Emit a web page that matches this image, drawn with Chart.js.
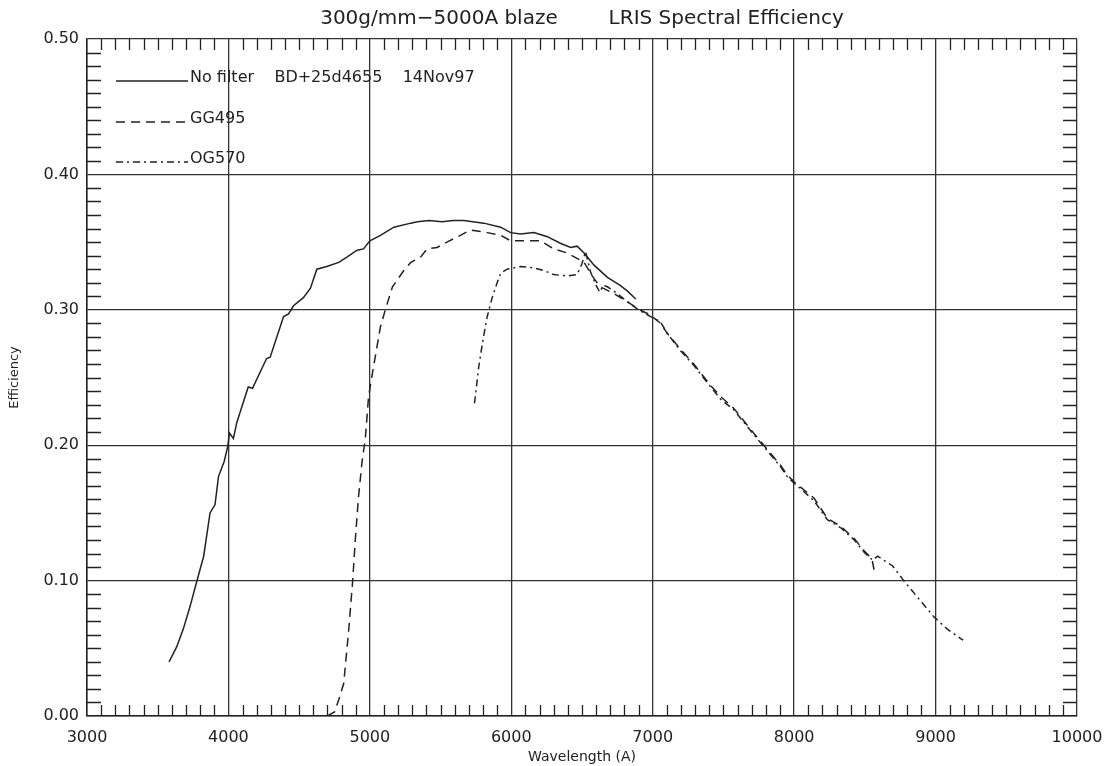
<!DOCTYPE html>
<html>
<head>
<meta charset="utf-8">
<title>LRIS Spectral Efficiency</title>
<script src="https://cdn.jsdelivr.net/npm/chart.js@4.4.1/dist/chart.umd.min.js"></script>
<style>
  html, body { margin: 0; padding: 0; background: #fff; }
  #wrap { width: 1108px; height: 766px; }
</style>
</head>
<body>
<div id="wrap"><canvas id="effChart" width="1108" height="766"></canvas></div>
<script>
// Values: wavelength (A) and efficiency for each filter
const noFilterWave = [3580, 3634, 3680, 3729, 3775, 3825, 3870, 3905, 3930, 3970, 3995, 4007, 4035, 4060, 4140, 4170, 4270, 4295, 4390, 4425, 4460, 4530, 4580, 4625, 4695, 4780, 4840, 4910, 4955, 5000, 5075, 5170, 5290, 5335, 5420, 5510, 5590, 5665, 5805, 5925, 5995, 6065, 6160, 6255, 6350, 6420, 6465, 6515, 6585, 6680, 6770, 6820, 6880];
const noFilterEff = [0.040, 0.051, 0.064, 0.081, 0.099, 0.118, 0.150, 0.156, 0.177, 0.188, 0.199, 0.209, 0.205, 0.217, 0.243, 0.242, 0.264, 0.265, 0.295, 0.297, 0.303, 0.309, 0.316, 0.330, 0.332, 0.335, 0.339, 0.344, 0.345, 0.351, 0.355, 0.361, 0.364, 0.365, 0.366, 0.365, 0.366, 0.366, 0.364, 0.361, 0.357, 0.356, 0.357, 0.354, 0.349, 0.346, 0.347, 0.342, 0.333, 0.324, 0.318, 0.314, 0.308];

const gg495Wave = [4700, 4750, 4780, 4815, 4850, 4878, 4897, 4920, 4944, 4968, 4991, 5026, 5074, 5109, 5160, 5240, 5290, 5360, 5405, 5475, 5545, 5640, 5711, 5830, 5925, 5995, 6110, 6205, 6300, 6395, 6465, 6515, 6585, 6630, 6725, 6820, 6890, 6985, 7056, 7100, 7195, 7290, 7410, 7480, 7575, 7690, 7785, 7905, 7950, 8000, 8045, 8140, 8235, 8330, 8425, 8495, 8550, 8565];
const gg495Eff = [0.000, 0.003, 0.012, 0.024, 0.063, 0.099, 0.130, 0.162, 0.187, 0.205, 0.236, 0.258, 0.287, 0.300, 0.317, 0.329, 0.335, 0.339, 0.345, 0.346, 0.350, 0.355, 0.359, 0.357, 0.355, 0.351, 0.351, 0.351, 0.345, 0.342, 0.338, 0.335, 0.323, 0.317, 0.312, 0.306, 0.301, 0.296, 0.290, 0.283, 0.271, 0.260, 0.244, 0.236, 0.227, 0.212, 0.200, 0.185, 0.178, 0.173, 0.169, 0.161, 0.146, 0.140, 0.131, 0.122, 0.116, 0.108];

const og570Wave = [5740, 5770, 5800, 5830, 5865, 5900, 5925, 5970, 6065, 6160, 6230, 6300, 6395, 6465, 6500, 6525, 6560, 6600, 6625, 6650, 6680, 6750, 6820, 6900, 6985, 7056, 7100, 7195, 7290, 7410, 7480, 7575, 7690, 7785, 7905, 7950, 8000, 8045, 8140, 8235, 8330, 8425, 8495, 8555, 8590, 8695, 8775, 8870, 8990, 9085, 9180, 9195];
const og570Eff = [0.231, 0.258, 0.278, 0.295, 0.309, 0.320, 0.327, 0.330, 0.332, 0.331, 0.329, 0.326, 0.325, 0.326, 0.334, 0.343, 0.328, 0.318, 0.313, 0.318, 0.317, 0.312, 0.306, 0.300, 0.295, 0.291, 0.283, 0.270, 0.259, 0.243, 0.234, 0.226, 0.211, 0.199, 0.184, 0.177, 0.172, 0.168, 0.159, 0.145, 0.139, 0.130, 0.121, 0.115, 0.118, 0.111, 0.100, 0.088, 0.073, 0.064, 0.057, 0.056];

const seriesLabels = ['No filter    BD+25d4655    14Nov97', 'GG495', 'OG570'];
const seriesDash = [[], [9, 6], [7, 4, 2, 4]];
const chartTitle = '300g/mm\u22125000A blaze        LRIS Spectral Efficiency';

const xTicks = { min: 3000, max: 10000, step: 1000, minor: 100 };
const yTicks = { min: 0, max: 0.5, step: 0.1, minor: 0.01 };

const INK = '#222';
const FONT = '"DejaVu Sans", sans-serif';

function toPoints(xs, ys) {
  return xs.map((x, i) => ({ x: x, y: ys[i] }));
}

// title, minor ticks all round the frame, and the in-plot legend
const frameExtras = {
  id: 'frameExtras',
  afterDraw(chart) {
    const ctx = chart.ctx;
    const area = chart.chartArea;
    const xs = chart.scales.x;
    const ys = chart.scales.y;
    ctx.save();

    ctx.font = '20px ' + FONT;
    ctx.fillStyle = INK;
    ctx.textAlign = 'center';
    ctx.textBaseline = 'middle';
    ctx.fillText(chartTitle, 582, 19);

    ctx.strokeStyle = INK;
    ctx.lineWidth = 1.3;
    ctx.beginPath();
    for (let v = xTicks.min + xTicks.minor; v < xTicks.max; v += xTicks.minor) {
      if (Math.round(v) % xTicks.step === 0) continue;
      const px = Math.round(xs.getPixelForValue(v)) + 0.5;
      ctx.moveTo(px, area.bottom); ctx.lineTo(px, area.bottom - 11);
      ctx.moveTo(px, area.top); ctx.lineTo(px, area.top + 11);
    }
    for (let i = 1; i < 50; i++) {
      if (i % 10 === 0) continue;
      const py = Math.round(ys.getPixelForValue(i * yTicks.minor)) + 0.5;
      ctx.moveTo(area.left, py); ctx.lineTo(area.left + 14, py);
      ctx.moveTo(area.right, py); ctx.lineTo(area.right - 14, py);
    }
    ctx.stroke();

    // legend
    ctx.font = '16px ' + FONT;
    ctx.textAlign = 'left';
    ctx.textBaseline = 'alphabetic';
    const rows = [82, 123, 163];
    chart.data.datasets.forEach((ds, i) => {
      ctx.beginPath();
      ctx.setLineDash(seriesDash[i]);
      ctx.lineWidth = 1.5;
      ctx.moveTo(116, rows[i] - 1);
      ctx.lineTo(188, rows[i] - 1);
      ctx.stroke();
      ctx.setLineDash([]);
      ctx.fillText(seriesLabels[i], 190, rows[i]);
    });
    ctx.restore();
  }
};

const ctx = document.getElementById('effChart').getContext('2d');

const config = {
  type: 'line',
  data: {
    datasets: [
      { label: seriesLabels[0], data: toPoints(noFilterWave, noFilterEff), borderDash: seriesDash[0] },
      { label: seriesLabels[1], data: toPoints(gg495Wave, gg495Eff), borderDash: seriesDash[1] },
      { label: seriesLabels[2], data: toPoints(og570Wave, og570Eff), borderDash: seriesDash[2] }
    ].map(ds => Object.assign(ds, {
      borderColor: INK,
      borderWidth: 1.5,
      pointRadius: 0,
      fill: false,
      tension: 0
    }))
  },
  options: {
    responsive: false,
    animation: false,
    devicePixelRatio: 1,
    layout: { padding: { left: 0, right: 31, top: 39, bottom: 0 } },
    plugins: {
      legend: { display: false },
      tooltip: { enabled: false },
      title: { display: false }
    },
    scales: {
      x: {
        type: 'linear',
        min: xTicks.min,
        max: xTicks.max,
        afterFit: s => { s.height = 50; s.paddingLeft = 0; s.paddingRight = 0; },
        ticks: {
          stepSize: xTicks.step,
          color: INK,
          padding: 12,
          maxRotation: 0,
          font: { family: FONT, size: 16 },
          callback: v => String(v)
        },
        grid: { color: '#333', lineWidth: 1.3, drawTicks: false },
        border: { color: INK, width: 1.5 },
        title: {
          display: true,
          text: 'Wavelength (A)',
          color: INK,
          font: { family: FONT, size: 14 },
          padding: { top: 0, bottom: 0 }
        }
      },
      y: {
        min: yTicks.min,
        max: yTicks.max,
        afterFit: s => { s.width = 87; s.paddingTop = 0; s.paddingBottom = 0; },
        ticks: {
          stepSize: yTicks.step,
          color: INK,
          padding: 8,
          font: { family: FONT, size: 16 },
          callback: v => v.toFixed(2)
        },
        grid: { color: '#333', lineWidth: 1.3, drawTicks: false },
        border: { color: INK, width: 1.5 },
        title: {
          display: true,
          text: 'Efficiency',
          color: INK,
          font: { family: FONT, size: 13 },
          padding: { top: 7, bottom: 0 }
        }
      }
    }
  },
  plugins: [frameExtras]
};

new Chart(ctx, config);
</script>
</body>
</html>
